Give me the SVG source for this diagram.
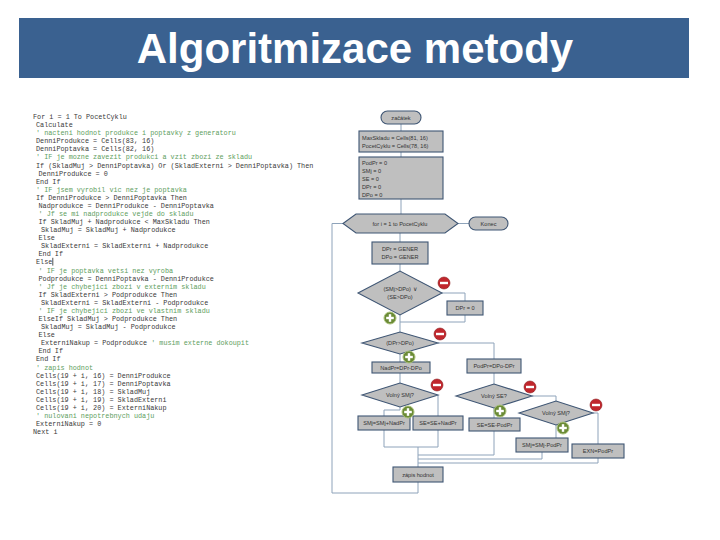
<svg xmlns="http://www.w3.org/2000/svg" width="720" height="540" viewBox="0 0 720 540">
<style>
.title{font-family:"Liberation Sans",Arial,sans-serif;font-weight:bold;font-size:42px;fill:#fff}
.c{font-family:"Liberation Mono","Courier New",monospace;font-size:6.8px;fill:#3a3a3a}
.g{font-family:"Liberation Mono","Courier New",monospace;font-size:6.8px;fill:#5e9e5e}
.n{fill:#bfbfbf;stroke:#3f5674;stroke-width:1.1}
.t{font-family:"Liberation Sans",Arial,sans-serif;font-size:5.6px;fill:#333;text-anchor:middle}
.tl{font-family:"Liberation Sans",Arial,sans-serif;font-size:5.6px;fill:#333}
.e{fill:none;stroke:#8ea3ba;stroke-width:1}
</style>
<defs>
<g id="minus"><circle r="6" fill="#c1272d" stroke="#8b1c1f" stroke-width="0.6"/><rect x="-4" y="-1.2" width="8" height="2.4" fill="#fff"/></g>
<g id="plus"><circle r="6" fill="#6b8b36" stroke="#a9c07a" stroke-width="1"/><rect x="-3.8" y="-1.2" width="7.6" height="2.4" fill="#fff"/><rect x="-1.2" y="-3.8" width="2.4" height="7.6" fill="#fff"/></g>
</defs>
<rect width="720" height="540" fill="#fff"/>
<g id="title">
<rect x="19" y="18" width="670" height="60" fill="#3a6190"/>
<text class="title" x="355" y="63" text-anchor="middle">Algoritmizace metody</text>
</g>
<g id="code">
<text class="c" x="33" y="119">For i = 1 To PocetCyklu</text>
<text class="c" x="36" y="127.1">Calculate</text>
<text class="g" x="36" y="135.2">' nacteni hodnot produkce i poptavky z generatoru</text>
<text class="c" x="36" y="143.2">DenniProdukce = Cells(83, 16)</text>
<text class="c" x="36" y="151.3">DenniPoptavka = Cells(82, 16)</text>
<text class="g" x="36" y="159.4">' IF je mozne zavezit produkci a vzit zbozi ze skladu</text>
<text class="c" x="36" y="167.5">If (SkladMuj &gt; DenniPoptavka) Or (SkladExterni &gt; DenniPoptavka) Then</text>
<text class="c" x="38.5" y="175.6">DenniProdukce = 0</text>
<text class="c" x="36" y="183.6">End If</text>
<text class="g" x="36" y="191.7">' IF jsem vyrobil vic nez je poptavka</text>
<text class="c" x="36" y="199.8">If DenniProdukce &gt; DenniPoptavka Then</text>
<text class="c" x="38.5" y="207.9">Nadprodukce = DenniProdukce - DenniPoptavka</text>
<text class="g" x="38.5" y="216">' Jf se mi nadprodukce vejde do skladu</text>
<text class="c" x="38.5" y="224">If SkladMuj + Nadprodukce &lt; MaxSkladu Then</text>
<text class="c" x="41" y="232.1">SkladMuj = SkladMuj + Nadprodukce</text>
<text class="c" x="38.5" y="240.2">Else</text>
<text class="c" x="41" y="248.3">SkladExterni = SkladExterni + Nadprodukce</text>
<text class="c" x="38.5" y="256.4">End If</text>
<text class="c" x="36" y="264.4">Else</text>
<line x1="52.8" y1="257.8" x2="52.8" y2="265.6" stroke="#222" stroke-width="0.8"/>
<text class="g" x="38.5" y="272.5">' IF je poptavka vetsi nez vyroba</text>
<text class="c" x="38.5" y="280.6">Podprodukce = DenniPoptavka - DenniProdukce</text>
<text class="g" x="38.5" y="288.7">' Jf je chybejici zbozi v externim skladu</text>
<text class="c" x="38.5" y="296.8">If SkladExterni &gt; Podprodukce Then</text>
<text class="c" x="41" y="304.8">SkladExterni = SkladExterni - Podprodukce</text>
<text class="g" x="38.5" y="312.9">' IF je chybejici zbozi ve vlastnim skladu</text>
<text class="c" x="38.5" y="321">ElseIf SkladMuj &gt; Podprodukce Then</text>
<text class="c" x="41" y="329.1">SkladMuj = SkladMuj - Podprodukce</text>
<text class="c" x="38.5" y="337.2">Else</text>
<text class="c" x="41" y="345.2">ExterniNakup = Podprodukce <tspan class="g">' musim externe dokoupit</tspan></text>
<text class="c" x="38.5" y="353.3">End If</text>
<text class="c" x="36" y="361.4">End If</text>
<text class="g" x="36" y="369.5">' zapis hodnot</text>
<text class="c" x="36" y="377.6">Cells(19 + i, 16) = DenniProdukce</text>
<text class="c" x="36" y="385.6">Cells(19 + i, 17) = DenniPoptavka</text>
<text class="c" x="36" y="393.7">Cells(19 + i, 18) = SkladMuj</text>
<text class="c" x="36" y="401.8">Cells(19 + i, 19) = SkladExterni</text>
<text class="c" x="36" y="409.9">Cells(19 + i, 20) = ExterniNakup</text>
<text class="g" x="36" y="418">' nulovani nepotrebnych udaju</text>
<text class="c" x="36" y="426">ExterniNakup = 0</text>
<text class="c" x="33" y="434.1">Next i</text>
</g>
<g id="connectors">
<path class="e" d="M401,124V131"/>
<path class="e" d="M401,152V157"/>
<path class="e" d="M401,199V214"/>
<path class="e" d="M458,223.5H469"/>
<path class="e" d="M400,233V242"/>
<path class="e" d="M400,264V271"/>
<path class="e" d="M442,293H465V301"/>
<path class="e" d="M465,315V322H400"/>
<path class="e" d="M400,315V332"/>
<path class="e" d="M438,343H494V359"/>
<path class="e" d="M400,354V362"/>
<path class="e" d="M400,373V383"/>
<path class="e" d="M438,395V416"/>
<path class="e" d="M400,407V410H384V416"/>
<path class="e" d="M384,430V447H438V430"/>
<path class="e" d="M494,373V384"/>
<path class="e" d="M532,396H556V401"/>
<path class="e" d="M494,408V418"/>
<path class="e" d="M494,431V455H418"/>
<path class="e" d="M593,413H598V444"/>
<path class="e" d="M556,425V438"/>
<path class="e" d="M542,452V459H418"/>
<path class="e" d="M598,458V463H418"/>
<path class="e" d="M418,447V467"/>
<path class="e" d="M418,482V493H332V223.5H343"/>
</g>
<g id="start"><rect class="n" x="381" y="111" width="40" height="13" rx="6.5"/><text class="t" x="401" y="119.5">začátek</text></g>
<g id="init1"><rect class="n" x="359" y="131" width="84" height="21"/><text class="tl" x="362" y="139.5">MaxSkladu = Cells(81, 16)</text><text class="tl" x="362" y="147.8">PocetCyklu = Cells(78, 16)</text></g>
<g id="init2"><rect class="n" x="359" y="157" width="84" height="42"/><text class="tl" x="362" y="165">PodPr = 0</text><text class="tl" x="362" y="173">SMj = 0</text><text class="tl" x="362" y="181">SE = 0</text><text class="tl" x="362" y="189">DPr = 0</text><text class="tl" x="362" y="197">DPo = 0</text></g>
<g id="loop"><polygon class="n" points="343,223.5 356,214 445,214 458,223.5 445,233 356,233"/><text class="t" x="400" y="225.5">for i = 1 to PocetCyklu</text></g>
<g id="konec"><rect class="n" x="469" y="217" width="39" height="13" rx="6.5"/><text class="t" x="488.5" y="225.5">Konec</text></g>
<g id="gener"><rect class="n" x="372" y="242" width="56" height="22"/><text class="t" x="400" y="251">DPr = GENER</text><text class="t" x="400" y="259">DPo = GENER</text></g>
<g id="d1"><polygon class="n" points="358,293 400,271 442,293 400,315"/><text class="t" x="400" y="291">(SMj&gt;DPo) ∨</text><text class="t" x="400" y="299">(SE&gt;DPo)</text></g>
<g id="dpr0"><rect class="n" x="447" y="301" width="36" height="14"/><text class="t" x="465" y="310">DPr = 0</text></g>
<g id="d2"><polygon class="n" points="362,343 400,332 438,343 400,354"/><text class="t" x="400" y="345">(DPr&gt;DPo)</text></g>
<g id="nadpr"><rect class="n" x="372" y="362" width="58" height="11"/><text class="t" x="401" y="369.5">NadPr=DPr-DPo</text></g>
<g id="podpr"><rect class="n" x="467" y="359" width="54" height="14"/><text class="t" x="494" y="368">PodPr=DPo-DPr</text></g>
<g id="d3"><polygon class="n" points="362,395 400,383 438,395 400,407"/><text class="t" x="400" y="397">Volný SMj?</text></g>
<g id="smjplus"><rect class="n" x="358" y="416" width="52" height="14"/><text class="t" x="384" y="425">SMj=SMj+NadPr</text></g>
<g id="seplus"><rect class="n" x="413" y="416" width="50" height="14"/><text class="t" x="438" y="425">SE=SE+NadPr</text></g>
<g id="d4"><polygon class="n" points="456,396 494,384 532,396 494,408"/><text class="t" x="494" y="398">Volný SE?</text></g>
<g id="seminus"><rect class="n" x="469" y="418" width="51" height="13"/><text class="t" x="494.5" y="427">SE=SE-PodPr</text></g>
<g id="d5"><polygon class="n" points="519,413 556,401 593,413 556,425"/><text class="t" x="556" y="415">Volný SMj?</text></g>
<g id="smjminus"><rect class="n" x="516" y="438" width="52" height="14"/><text class="t" x="542" y="447">SMj=SMj-PodPr</text></g>
<g id="exn"><rect class="n" x="572" y="444" width="52" height="14"/><text class="t" x="598" y="453">EXN=PodPr</text></g>
<g id="zapis"><rect class="n" x="393" y="467" width="50" height="15"/><text class="t" x="418" y="476.5">zápis hodnot</text></g>
<g id="icons">
<use href="#minus" x="444" y="283"/>
<use href="#minus" x="440" y="334"/>
<use href="#minus" x="437" y="385"/>
<use href="#minus" x="530" y="387"/>
<use href="#minus" x="596" y="405"/>
<use href="#plus" x="390" y="318"/>
<use href="#plus" x="409" y="357"/>
<use href="#plus" x="408" y="412"/>
<use href="#plus" x="500" y="411"/>
<use href="#plus" x="563" y="428"/>
</g>
</svg>
